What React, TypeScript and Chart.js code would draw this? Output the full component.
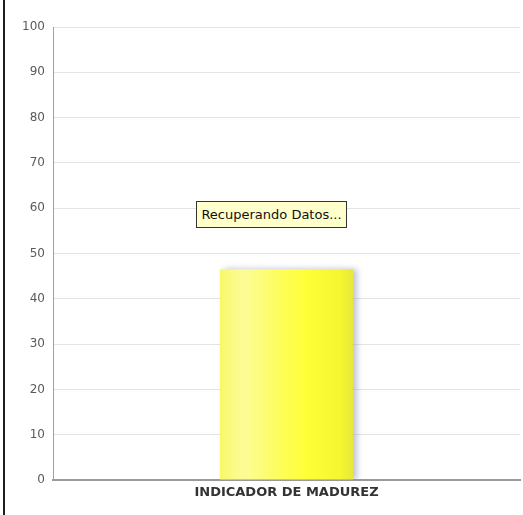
import React, { useEffect, useRef } from "react";
import { Chart, registerables } from "chart.js";

Chart.register(...registerables);

const categories: string[] = ["INDICADOR DE MADUREZ"];
const values: number[] = [46.5];
const yMin = 0;
const yMax = 100;
const yStep = 10;
const statusText = "Recuperando Datos...";

export default function App() {
  const canvasRef = useRef<HTMLCanvasElement | null>(null);

  useEffect(() => {
    document.body.style.margin = "0";
    const canvas = canvasRef.current;
    if (!canvas) return;

    const shadowPlugin = {
      id: "barShadow",
      beforeDatasetDraw(chart: any) {
        const ctx = chart.ctx;
        ctx.save();
        ctx.shadowColor = "rgba(120,120,170,0.45)";
        ctx.shadowBlur = 6;
        ctx.shadowOffsetX = 4;
        ctx.shadowOffsetY = 0;
      },
      afterDatasetDraw(chart: any) {
        chart.ctx.restore();
      },
    };

    const barPct = 0.285;

    const chart = new Chart(canvas, {
      type: "bar",
      data: {
        labels: categories,
        datasets: [
          {
            data: values,
            borderWidth: 0,
            barPercentage: barPct,
            categoryPercentage: 1,
            backgroundColor: (c: any) => {
              const ch = c.chart;
              const area = ch.chartArea;
              const xs = ch.scales && ch.scales.x;
              if (!area || !xs) return "#ffff40";
              const center = xs.getPixelForValue(0);
              const w = area.width * barPct;
              const g = ch.ctx.createLinearGradient(center - w / 2, 0, center + w / 2, 0);
              g.addColorStop(0, "#f8f86a");
              g.addColorStop(0.18, "#fcfc98");
              g.addColorStop(0.45, "#fdfd5a");
              g.addColorStop(0.65, "#ffff38");
              g.addColorStop(0.9, "#f6f630");
              g.addColorStop(1, "#e8e83a");
              return g;
            },
          },
        ],
      },
      options: {
        responsive: false,
        animation: false,
        layout: { padding: { left: 3, top: 27, right: 3, bottom: 0 } },
        plugins: {
          legend: { display: false },
          tooltip: { enabled: false },
          title: { display: false },
        },
        scales: {
          x: {
            grid: { display: false, drawTicks: false },
            border: { display: true, color: "#9a9a9a", width: 2 },
            ticks: {
              color: "#333333",
              padding: 5,
              font: { family: "'DejaVu Sans'", size: 13, weight: "bold" },
            },
            afterFit: (s: any) => {
              s.height = 35;
            },
          },
          y: {
            min: yMin,
            max: yMax,
            grid: { color: "#e4e4e4", lineWidth: 1, drawTicks: false },
            border: { display: true, color: "#a0a0a0", width: 1 },
            ticks: {
              stepSize: yStep,
              color: "#5a5a5a",
              padding: 8,
              font: { family: "'DejaVu Sans'", size: 12 },
            },
            afterFit: (s: any) => {
              s.width = 50;
            },
          },
        },
      },
      plugins: [shadowPlugin],
    } as any);

    return () => chart.destroy();
  }, []);

  return (
    <div style={{ position: "relative", width: 523, height: 515, background: "#ffffff" }}>
      <canvas ref={canvasRef} width={523} height={515} style={{ position: "absolute", left: 0, top: 0 }} />
      <div
        style={{
          position: "absolute",
          left: 3,
          top: 0,
          width: 2,
          height: 515,
          background: "#1e1e1e",
        }}
      />
      <div
        style={{
          position: "absolute",
          left: 196,
          top: 201,
          width: 149,
          height: 25,
          background: "#ffffcc",
          border: "1px solid #333333",
          fontFamily: "'DejaVu Sans', sans-serif",
          fontSize: 13,
          color: "#111111",
          lineHeight: "25px",
          textAlign: "center",
          whiteSpace: "nowrap",
        }}
      >
        {statusText}
      </div>
    </div>
  );
}
